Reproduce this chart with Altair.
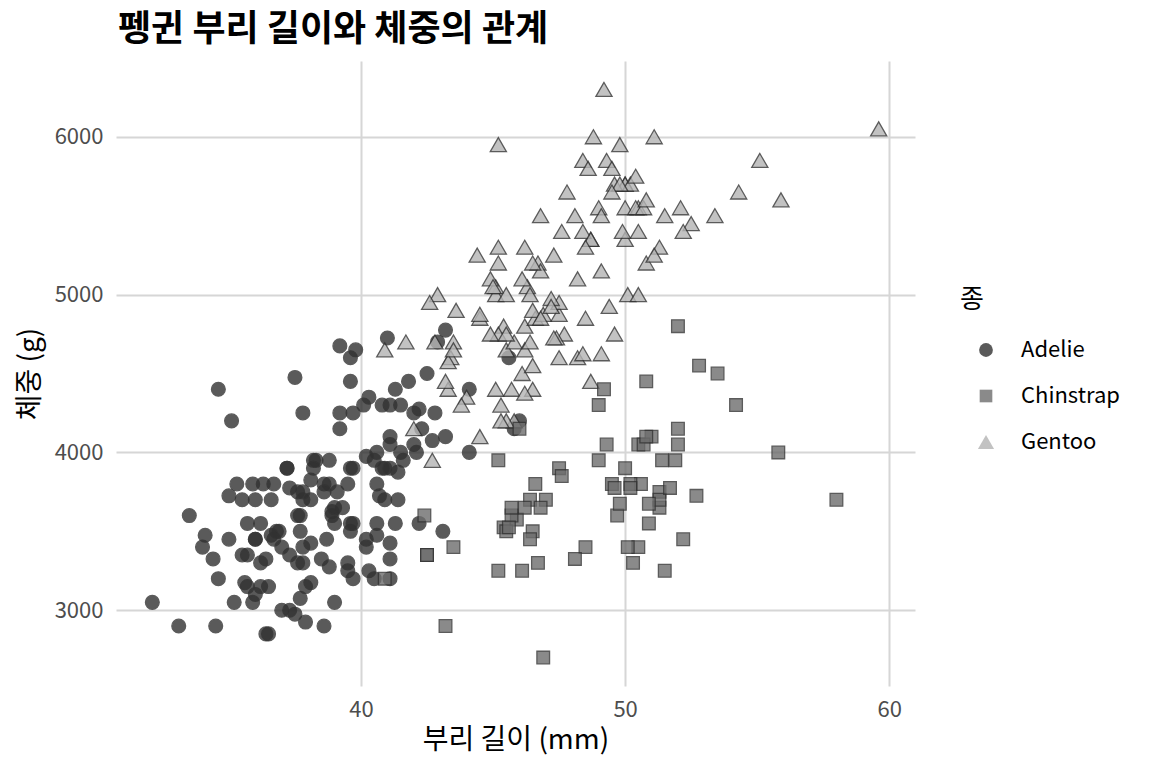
import altair as alt
import pandas as pd

adelie_bill = [39.1, 39.5, 40.3, 36.7, 39.3, 38.9, 39.2, 34.1, 42.0, 37.8, 37.8, 41.1, 38.6, 34.6, 36.6, 38.7, 42.5, 34.4, 46.0,
               37.8, 37.7, 35.9, 38.2, 38.8, 35.3, 40.6, 40.5, 37.9, 40.5,
               39.5, 37.2, 39.5, 40.9, 36.4, 39.2, 38.8, 42.2, 37.6, 39.8, 36.5, 40.8, 36.0, 44.1, 37.0, 39.6, 41.1, 37.5, 36.0, 42.3,
               39.6, 40.1, 35.0, 42.0, 34.5, 41.4, 39.0, 40.6, 36.5, 37.6, 35.7, 41.3, 37.6, 41.1, 36.4, 41.6, 35.5, 41.1,
               35.9, 41.8, 33.5, 39.7, 39.6, 45.8, 35.5, 42.8, 40.9, 37.2, 36.2, 42.1, 34.6, 42.9, 36.7, 35.1,
               37.3, 41.3, 36.3, 36.9, 38.3, 38.9, 35.7, 41.1, 34.0, 39.6, 36.2, 40.8, 38.1, 40.3, 33.1, 43.2,
               35.0, 41.0, 37.7, 37.8, 37.9, 39.7, 38.6, 38.2, 38.1, 43.2, 38.1, 45.6, 39.7, 42.2, 39.6, 42.7,
               38.6, 37.3, 35.7, 41.1, 36.2, 37.7, 40.2, 41.4, 35.2, 40.6, 38.8, 41.5, 39.0, 44.1, 38.5, 43.1,
               36.8, 37.5, 38.1, 41.1, 35.6, 40.2, 37.0, 39.7, 40.2, 40.6, 32.1, 40.7, 37.3, 39.0, 39.2, 36.6, 36.0, 37.8, 36.0, 41.5]
adelie_mass = [3750, 3800, 3250, 3450, 3650, 3625, 4675, 3475, 4250, 3300, 3700, 3200, 3800, 4400, 3700, 3450, 4500, 3325, 4200,
               3400, 3600, 3800, 3950, 3800, 3800, 3550, 3200, 3150, 3950,
               3250, 3900, 3300, 3900, 3325, 4150, 3950, 3550, 3300, 4650, 3150, 3900, 3100, 4400, 3000, 4600, 3425, 2975, 3450, 4150,
               3500, 4300, 3450, 4050, 2900, 3700, 3550, 3800, 2850, 3750, 3150, 4400, 3600, 4050, 2850, 3950, 3350, 4100,
               3050, 4450, 3600, 3900, 3550, 4150, 3700, 4250, 3700, 3900, 3550, 4000, 3200, 4700, 3800, 4200,
               3350, 3550, 3800, 3500, 3950, 3600, 3550, 4300, 3400, 4450, 3300, 4300, 3700, 4350, 2900, 4100,
               3725, 4725, 3075, 4250, 2925, 3550, 3750, 3900, 3175, 4775, 3825, 4600, 3200, 4275, 3900, 4075,
               2900, 3775, 3350, 3325, 3150, 3500, 3450, 3875, 3050, 4000, 3275, 4300, 3050, 4000, 3325, 3500,
               3500, 4475, 3425, 3900, 3175, 3975, 3400, 4250, 3400, 3475, 3050, 3725, 3000, 3650, 4250, 3475, 3450, 3750, 3700, 4000]

gentoo_bill = [46.1, 50.0, 48.7, 50.0, 47.6, 46.5, 45.4, 46.7, 43.3, 46.8, 40.9, 49.0, 45.5, 48.4, 45.8, 49.3, 42.0, 49.2, 46.2, 48.7,
               50.2, 45.1, 46.5, 46.3, 42.9, 46.1, 44.5, 47.8, 48.2, 50.0, 47.3, 42.8, 45.1, 59.6, 49.1, 48.4, 42.6, 44.4, 44.0, 48.7,
               42.7, 49.6, 45.3, 49.6, 50.5, 43.6, 45.5, 50.5, 44.9, 45.2, 46.6, 48.5, 45.1, 50.1, 46.5, 45.0, 43.8, 45.5, 43.2, 50.4,
               45.3, 46.2, 45.7, 54.3, 45.8, 49.8, 46.2, 49.5, 43.5, 50.7, 47.7, 46.4, 48.2, 46.5, 46.4, 48.6, 47.5, 51.1, 45.2, 45.2,
               49.1, 52.5, 47.4, 50.0, 44.9, 50.8, 43.4, 51.3, 47.5, 52.1, 47.5, 52.2, 45.5, 49.5, 44.5, 50.8, 49.4, 46.9, 48.4, 51.1,
               48.5, 55.9, 47.2, 49.1, 47.3, 46.8, 41.7, 53.4, 43.3, 48.1, 50.5, 49.8, 43.5, 51.5, 46.2, 55.1, 44.5, 48.8, 47.2, 46.8,
               50.4, 45.2, 49.9]
gentoo_mass = [4500, 5700, 4450, 5700, 5400, 4550, 4800, 5200, 4400, 5150, 4650, 5550, 4650, 5850, 4200, 5850, 4150, 6300, 4800, 5350,
               5700, 5000, 4400, 5050, 5000, 5100, 4100, 5650, 4600, 5550, 5250, 4700, 5050, 6050, 5150, 5400, 4950, 5250, 4350, 5350,
               3950, 5700, 4300, 4750, 5550, 4900, 4200, 5400, 5100, 5300, 4850, 5300, 4400, 5000, 4900, 5050, 4300, 5000, 4450, 5550,
               4200, 5300, 4400, 5650, 4700, 5700, 4650, 5800, 4700, 5550, 4750, 5000, 5100, 5200, 4700, 5800, 4600, 6000, 4750, 5950,
               4625, 5450, 4725, 5350, 4750, 5600, 4600, 5300, 4875, 5550, 4950, 5400, 4750, 5650, 4850, 5200, 4925, 4875, 4625, 5250,
               4850, 5600, 4975, 5500, 4725, 5500, 4700, 5500, 4575, 5500, 5000, 5950, 4650, 5500, 4375, 5850, 4875, 6000, 4925, 4850,
               5750, 5200, 5400]

chinstrap_bill = [46.5, 50.0, 51.3, 45.4, 52.7, 45.2, 46.1, 51.3, 46.0, 51.3, 46.6, 51.7, 47.0, 52.0, 45.9, 50.5, 50.3, 58.0, 46.4, 49.2,
                  42.4, 48.5, 43.2, 50.6, 46.7, 52.0, 50.5, 49.5, 46.4, 52.8, 40.9, 54.2, 42.5, 51.0, 49.7, 47.5, 47.6, 52.0, 46.9, 53.5,
                  49.0, 46.2, 50.9, 45.5, 50.9, 50.8, 50.1, 49.0, 51.5, 49.8, 48.1, 51.4, 45.7, 50.7, 42.5, 52.2, 45.2, 49.3, 50.2, 45.6,
                  51.9, 46.8, 45.7, 55.8, 43.5, 49.6, 50.8, 50.2]
chinstrap_mass = [3500, 3900, 3650, 3525, 3725, 3950, 3250, 3750, 4150, 3700, 3800, 3775, 3700, 4050, 3575, 4050, 3300, 3700, 3450, 4400,
                  3600, 3400, 2900, 3800, 3300, 4150, 3400, 3800, 3700, 4550, 3200, 4300, 3350, 4100, 3600, 3900, 3850, 4800, 2700, 4500,
                  3950, 3650, 3550, 3500, 3675, 4450, 3400, 4300, 3250, 3675, 3325, 3950, 3600, 4050, 3350, 3450, 3250, 4050, 3800, 3525,
                  3950, 3650, 3650, 4000, 3400, 3775, 4100, 3775]

species = ["Adelie", "Chinstrap", "Gentoo"]
fills = ["#313131", "#6d6d6d", "#b4b4b4"]
shapes = ["circle", "square", "triangle-up"]
sizes = [190, 160, 260]

rows = []
for b, m in zip(adelie_bill, adelie_mass):
    rows.append({"species": "Adelie", "bill": b, "mass": m})
for b, m in zip(gentoo_bill, gentoo_mass):
    rows.append({"species": "Gentoo", "bill": b, "mass": m})
for b, m in zip(chinstrap_bill, chinstrap_mass):
    rows.append({"species": "Chinstrap", "bill": b, "mass": m})
df = pd.DataFrame(rows)

FONT = "Noto Sans CJK KR"

chart = alt.Chart(df).mark_point(
    filled=True, stroke="#333333", strokeWidth=1.3, opacity=0.8
).encode(
    x=alt.X("bill:Q", title="부리 길이 (mm)",
            scale=alt.Scale(domain=[30.725, 60.975], nice=False, zero=False),
            axis=alt.Axis(values=[40, 50, 60], format="d", titlePadding=6)),
    y=alt.Y("mass:Q", title="체중 (g)",
            scale=alt.Scale(domain=[2520, 6480], nice=False, zero=False),
            axis=alt.Axis(values=[3000, 4000, 5000, 6000], format="d", titlePadding=10)),
    fill=alt.Fill("species:N", title="종",
                  scale=alt.Scale(domain=species, range=fills)),
    shape=alt.Shape("species:N", title="종",
                    scale=alt.Scale(domain=species, range=shapes)),
    size=alt.Size("species:N", title="종",
                  scale=alt.Scale(type="ordinal", domain=species, range=sizes)),
).properties(
    width=799,
    height=625,
    autosize=alt.AutoSizeParams(type="none"),
    padding={"left": 108, "top": 53, "right": 229, "bottom": 74},
    title=alt.Title("펭귄 부리 길이와 체중의 관계", anchor="start", frame="group", dx=2, dy=28,
                    fontSize=36, fontWeight="bold", font=FONT, color="#000000",
                    baseline="alphabetic", offset=12),
).configure_view(
    stroke=None
).configure_axis(
    domain=False,
    ticks=False,
    grid=True,
    gridColor="#d6d6d6",
    gridWidth=2,
    labelFont=FONT,
    labelFontSize=22,
    labelColor="#4d4d4d",
    labelPadding=13,
    titleFont=FONT,
    titleFontSize=28,
    titleFontWeight="normal",
    titleColor="#000000",
).configure_legend(
    orient="none",
    legendX=844,
    legendY=226,
    padding=0,
    titleFont=FONT,
    titleFontSize=26,
    titleFontWeight="normal",
    titleColor="#000000",
    titlePadding=26,
    labelFont=FONT,
    labelFontSize=22,
    labelColor="#000000",
    labelOffset=24,
    symbolOffset=15,
    rowPadding=24,
    symbolStrokeColor="#333333",
    symbolStrokeWidth=1.3,
    symbolOpacity=0.8,
)

chart.save("out.html", embed_options={"renderer": "svg", "actions": False})
